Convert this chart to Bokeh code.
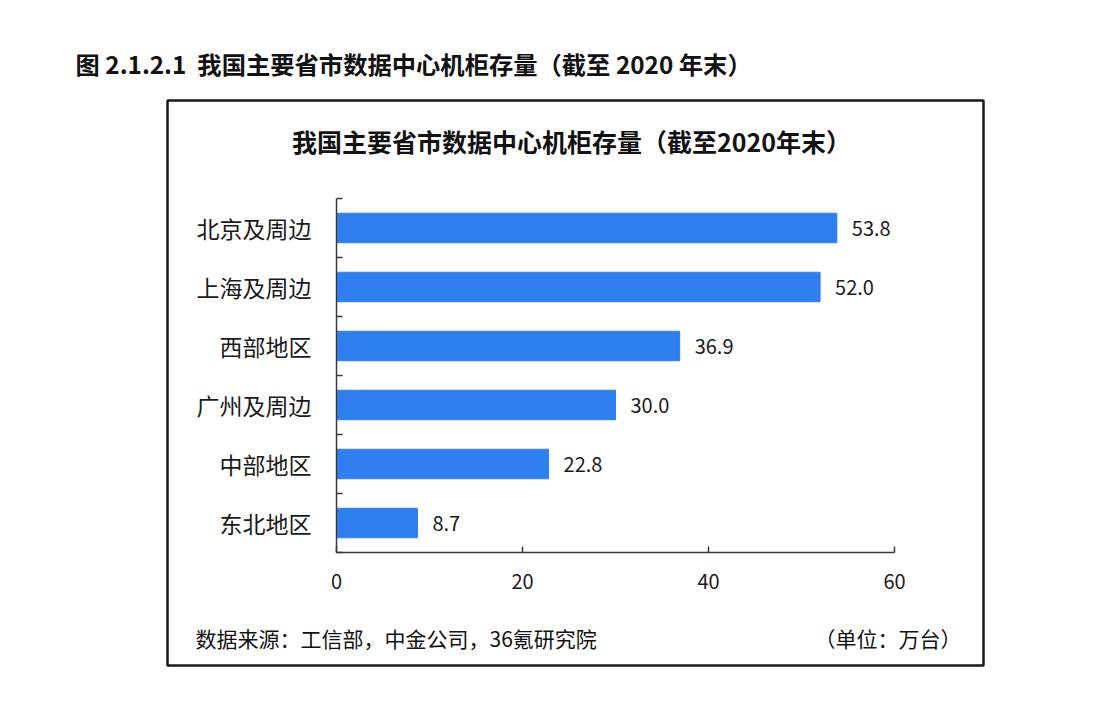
from bokeh.plotting import figure
from bokeh.models import Range1d, FixedTicker, Label, ColumnDataSource
from bokeh.core.properties import value
from bokeh.embed import file_html
from bokeh.resources import INLINE

categories = ["北京及周边", "上海及周边", "西部地区", "广州及周边", "中部地区", "东北地区"]
values = [53.8, 52.0, 36.9, 30.0, 22.8, 8.7]
x_ticks = [0, 20, 40, 60]

outer_title = "图 2.1.2.1 \u00a0我国主要省市数据中心机柜存量（截至 2020 年末）"
inner_title = "我国主要省市数据中心机柜存量（截至2020年末）"
source_note = "数据来源：工信部，中金公司，36氪研究院"
unit_note = "（单位：万台）"

n = len(categories)
ypos = [n - i - 0.5 for i in range(n)]
labels = [f"{v:.1f}" for v in values]
src = ColumnDataSource(dict(cat=categories, y=ypos, v=values, lab=labels))

FONT = "Noto Sans CJK SC"
W, H = 1100, 708
# frame = the outlined box
BL, BR, BT, BB = 167, 983, 100, 665
# pixel placement of the value axis (0..60) and the category band (0..n)
X0, X60 = 336, 894
Y0, YN = 552, 198
KX = (X60 - X0) / 60.0
KY = (Y0 - YN) / float(n)
AX = "#383838"
TXT = "#1a1a1a"

p = figure(width=W, height=H, output_backend="svg", toolbar_location=None,
           x_range=Range1d(-(X0 - BL) / KX, 60 + (BR - X60) / KX),
           y_range=Range1d(-(BB - Y0) / KY, n + (YN - BT) / KY),
           min_border_left=BL, min_border_right=W - BR,
           min_border_top=BT, min_border_bottom=H - BB)
p.outline_line_color = "#1a1a1a"
p.outline_line_width = 2.5
p.grid.visible = False
p.background_fill_color = "white"
p.border_fill_color = "white"

p.hbar(y="y", right="v", left=0, height=0.5, source=src, color="#2F7FF0")
p.text(x="v", y="y", text="lab", source=src, x_offset=15, text_align="left",
       text_baseline="middle", text_font=value(FONT), text_font_size="20px",
       text_color=TXT)

xa = p.xaxis[0]
xa.fixed_location = 0
xa.bounds = (0, 60)
xa.ticker = FixedTicker(ticks=x_ticks)
xa.major_tick_in = 6
xa.major_tick_out = 0
xa.minor_tick_line_color = None
xa.axis_line_color = AX
xa.axis_line_width = 1.5
xa.major_tick_line_color = AX
xa.major_tick_line_width = 1.5
xa.major_label_text_font = FONT
xa.major_label_text_font_size = "20px"
xa.major_label_text_color = TXT
xa.major_label_standoff = 21

ya = p.yaxis[0]
ya.fixed_location = 0
ya.bounds = (0, n)
ya.ticker = FixedTicker(ticks=ypos, minor_ticks=list(range(n + 1)))
ya.major_label_overrides = {y: c for y, c in zip(ypos, categories)}
ya.major_tick_line_color = None
ya.minor_tick_in = 6
ya.minor_tick_out = 0
ya.minor_tick_line_color = AX
ya.minor_tick_line_width = 1.5
ya.axis_line_color = AX
ya.axis_line_width = 1.5
ya.major_label_text_font = FONT
ya.major_label_text_font_size = "23px"
ya.major_label_text_color = TXT
ya.major_label_standoff = 19

p.title.text = outer_title
p.title.align = "left"
p.title.offset = 75 - BL
p.title.text_font = FONT
p.title.text_font_size = "24.3px"
p.title.text_font_style = "bold"
p.title.text_color = "#111111"
p.title.standoff = 40


def dx(px):
    return (px - X0) / KX


def dy(py):
    return (Y0 - py) / KY


def lab(x, y, t, size, bold=False, align="left"):
    p.add_layout(Label(x=dx(x), y=dy(y), text=t,
                       text_font=FONT, text_font_size=size,
                       text_font_style="bold" if bold else "normal",
                       text_align=align, text_baseline="middle", text_color="#111111"))


lab(571, 140, inner_title, "25px", bold=True, align="center")
lab(195, 637, source_note, "21px")
lab(961, 637, unit_note, "21px", align="right")

open("out.html", "w").write(file_html(p, INLINE))
